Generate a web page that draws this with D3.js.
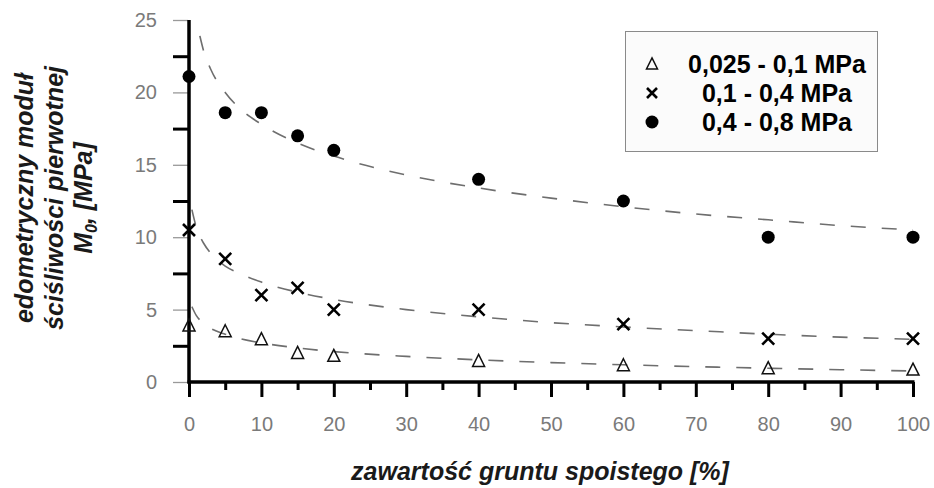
<!DOCTYPE html>
<html><head><meta charset="utf-8">
<script src="https://cdn.jsdelivr.net/npm/d3@7"></script>
<style>
html,body{margin:0;padding:0;background:#fff;}
svg{display:block;font-family:Arial,"Liberation Sans",sans-serif;}
</style></head><body>
<svg id="chart" width="934" height="488"></svg>
<script>
// ---- data ----
const xValues = [0, 5, 10, 15, 20, 40, 60, 80, 100];
const seriesNames = ["0,025 - 0,1 MPa", "0,1 - 0,4 MPa", "0,4 - 0,8 MPa"];
const triangleValues = [3.9, 3.5, 2.95, 2.0, 1.8, 1.45, 1.15, 0.95, 0.85];
const crossValues = [10.5, 8.5, 6.0, 6.5, 5.0, 5.0, 4.0, 3.0, 3.0];
const circleValues = [21.1, 18.6, 18.6, 17.0, 16.0, 14.0, 12.5, 10.0, 10.0];
// trend lines
const trendTriX = [0.4, 1, 2, 3, 5, 7, 10, 15, 20, 30, 40, 50, 60, 70, 80, 90, 100];
const trendTriY = [5.2, 4.6, 4.05, 3.7, 3.3, 3.0, 2.7, 2.35, 2.1, 1.77, 1.53, 1.34, 1.19, 1.06, 0.95, 0.85, 0.76];
const trendCrossX = [0.4, 1, 2, 3, 5, 7, 10, 15, 20, 30, 40, 50, 60, 70, 80, 90, 100];
const trendCrossY = [11.9, 10.7, 9.6, 8.9, 8.0, 7.5, 6.9, 6.2, 5.7, 5.0, 4.5, 4.1, 3.8, 3.55, 3.3, 3.1, 2.95];
const trendCircX = [1.5, 2, 3, 5, 7, 10, 15, 20, 30, 40, 50, 60, 70, 80, 90, 100];
const trendCircY = [23.9, 22.9, 21.6, 20.0, 18.9, 17.8, 16.5, 15.6, 14.3, 13.4, 12.7, 12.1, 11.6, 11.2, 10.8, 10.5];
const xTicks = [0, 10, 20, 30, 40, 50, 60, 70, 80, 90, 100];
const xMinorTicks = [5, 15, 25, 35, 45, 55, 65, 75, 85, 95];
const yTicks = [0, 5, 10, 15, 20, 25];
const yMinorTicks = [2.5, 7.5, 12.5, 17.5, 22.5];
const xTitle = "zawartość gruntu spoistego [%]";
const yTitleLines = ["edometryczny moduł", "ściśliwości pierwotnej"];

// ---- layout ----
const svg = d3.select("#chart");
const x = d3.scaleLinear().domain([0, 100]).range([189, 913]);
const y = d3.scaleLinear().domain([0, 25]).range([382, 20]);

// trend lines
const line = d3.line().x(d => x(d[0])).y(d => y(d[1])).curve(d3.curveMonotoneX);
[[trendTriX, trendTriY], [trendCrossX, trendCrossY], [trendCircX, trendCircY]].forEach(([xs, ys]) => {
  svg.append("path")
    .attr("d", line(xs.map((v, i) => [v, ys[i]])))
    .attr("fill", "none").attr("stroke", "#6e6e6e").attr("stroke-width", 1.6)
    .attr("stroke-dasharray", "15,16");
});

// y axis: major ticks (thin gray), minor ticks (thick black)
const yMajor = d3.axisLeft(y).tickValues(yTicks).tickSize(15).tickPadding(16).tickFormat(d3.format("d"));
const gy = svg.append("g").attr("transform", "translate(188,0)").call(yMajor);
gy.select(".domain").remove();
gy.selectAll(".tick line").attr("stroke", "#999").attr("stroke-width", 1.3);
gy.selectAll(".tick text").attr("fill", "#7a7a7a").style("font-size", "20px").attr("font-family", "Arial, 'Liberation Sans', sans-serif");
const gym = svg.append("g").attr("transform", "translate(188,0)")
  .call(d3.axisLeft(y).tickValues(yMinorTicks).tickSize(15).tickFormat(""));
gym.select(".domain").remove();
gym.selectAll(".tick line").attr("stroke", "#000").attr("stroke-width", 3);

// x axis
const gx = svg.append("g").attr("transform", "translate(0,382)")
  .call(d3.axisBottom(x).tickValues(xTicks).tickSize(15).tickPadding(20).tickFormat(d3.format("d")));
gx.select(".domain").remove();
gx.selectAll(".tick line").attr("stroke", "#000").attr("stroke-width", 3);
gx.selectAll(".tick text").attr("fill", "#7a7a7a").style("font-size", "20px").attr("font-family", "Arial, 'Liberation Sans', sans-serif");
const gxm = svg.append("g").attr("transform", "translate(0,382)")
  .call(d3.axisBottom(x).tickValues(xMinorTicks).tickSize(8).tickFormat(""));
gxm.select(".domain").remove();
gxm.selectAll(".tick line").attr("stroke", "#000").attr("stroke-width", 3);

// axis lines
svg.append("line").attr("x1", x(0)).attr("x2", x(0)).attr("y1", y(25)).attr("y2", y(0) + 1.5)
  .attr("stroke", "#000").attr("stroke-width", 3.5);
svg.append("line").attr("x1", x(0) - 1.5).attr("x2", x(100) + 1.5).attr("y1", y(0)).attr("y2", y(0))
  .attr("stroke", "#000").attr("stroke-width", 3.5);

// markers
function triangle(g, cx, cy, s) {
  g.append("path").attr("d", `M${cx},${cy - s * 0.55} L${cx + s * 0.5},${cy + s * 0.45} L${cx - s * 0.5},${cy + s * 0.45} Z`)
    .attr("fill", "none").attr("stroke", "#111").attr("stroke-width", 1.5);
}
function cross(g, cx, cy, s) {
  g.append("path").attr("d", `M${cx - s},${cy - s} L${cx + s},${cy + s} M${cx - s},${cy + s} L${cx + s},${cy - s}`)
    .attr("stroke", "#000").attr("stroke-width", 2.6);
}
const gm = svg.append("g");
xValues.forEach((xv, i) => {
  triangle(gm, x(xv), y(triangleValues[i]), 12);
  cross(gm, x(xv), y(crossValues[i]), 6);
  gm.append("circle").attr("cx", x(xv)).attr("cy", y(circleValues[i])).attr("r", 6.5).attr("fill", "#000");
});

// legend
const lg = svg.append("g");
lg.append("rect").attr("x", 625.5).attr("y", 31.5).attr("width", 252).attr("height", 120)
  .attr("fill", "#fbfbfb").attr("stroke", "#8a8a8a").attr("stroke-width", 1);
const rowY = [64, 93, 122];
triangle(lg, 652, rowY[0], 11);
cross(lg, 652, rowY[1], 5);
lg.append("circle").attr("cx", 652).attr("cy", rowY[2]).attr("r", 6.5).attr("fill", "#000");
seriesNames.forEach((n, i) => {
  lg.append("text").attr("x", 777).attr("y", rowY[i] + 9).attr("text-anchor", "middle")
    .style("font-size", "25px").style("font-weight", "bold").attr("fill", "#000").text(n);
});

// x title
svg.append("text").attr("x", 540).attr("y", 480).attr("text-anchor", "middle")
  .style("font-size", "25px").style("font-weight", "bold").style("font-style", "italic")
  .attr("fill", "#1a1a1a").text(xTitle);

// y title
const yt = svg.append("text").attr("transform", "translate(0,198) rotate(-90)")
  .attr("text-anchor", "middle").style("font-size", "25px").style("font-weight", "bold")
  .style("font-style", "italic").attr("fill", "#1a1a1a");
yt.append("tspan").attr("x", 0).attr("y", 33).text(yTitleLines[0]);
yt.append("tspan").attr("x", 0).attr("y", 63).text(yTitleLines[1]);
const l3 = yt.append("tspan").attr("x", 0).attr("y", 92);
l3.append("tspan").text("M");
l3.append("tspan").attr("dy", 5).style("font-size", "16px").text("0");
l3.append("tspan").attr("dy", -5).text(", [MPa]");
</script>
</body></html>
